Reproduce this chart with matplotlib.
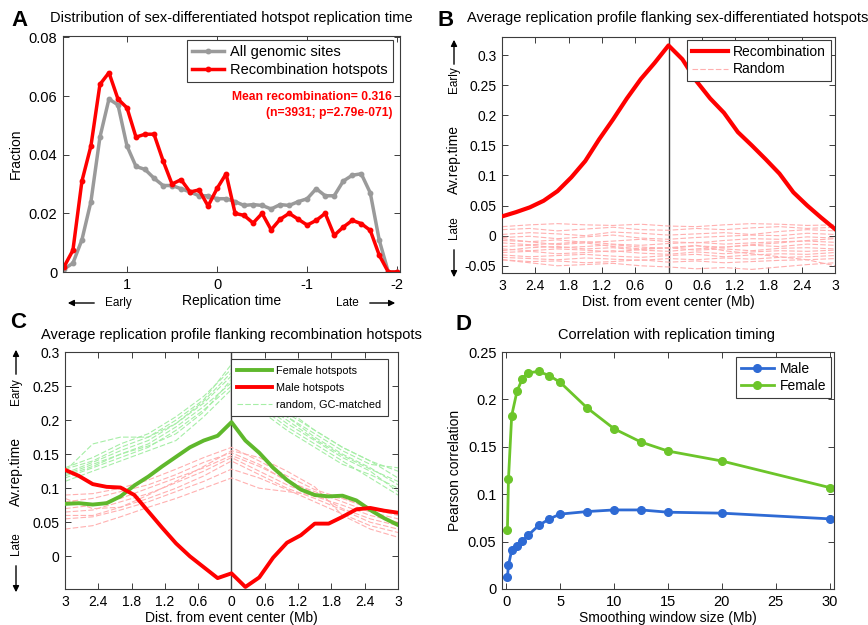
import matplotlib
matplotlib.use('Agg')  # no display here

import matplotlib.pyplot as plt
from matplotlib.patches import FancyArrowPatch

plt.rcParams['font.family'] = ['Liberation Sans', 'DejaVu Sans']

# ---------------- data ----------------
# A: distribution of replication time
rep_time = [1.7, 1.6, 1.5, 1.4, 1.3, 1.2, 1.1, 1.0, 0.9, 0.8, 0.7, 0.6, 0.5, 0.4,
            0.3, 0.2, 0.1, 0.0, -0.1, -0.2, -0.3, -0.4, -0.5, -0.6, -0.7, -0.8,
            -0.9, -1.0, -1.1, -1.2, -1.3, -1.4, -1.5, -1.6, -1.7, -1.8, -1.9, -2.0]
all_sites = [0.001, 0.003, 0.011, 0.024, 0.046, 0.059, 0.057, 0.043, 0.036, 0.035,
             0.032, 0.0295, 0.0295, 0.0284, 0.0273, 0.026, 0.026, 0.025, 0.025, 0.024,
             0.0227, 0.023, 0.0227, 0.0215, 0.023, 0.0227, 0.024, 0.025, 0.0284, 0.026,
             0.026, 0.031, 0.033, 0.0335, 0.027, 0.0108, 0.0, 0.0]
hotspots = [0.0017, 0.0074, 0.031, 0.043, 0.064, 0.068, 0.059, 0.056, 0.046, 0.047,
            0.047, 0.038, 0.030, 0.0315, 0.0273, 0.028, 0.0225, 0.0285, 0.0335, 0.020,
            0.0193, 0.0167, 0.020, 0.0144, 0.018, 0.020, 0.018, 0.016, 0.0176, 0.020,
            0.0125, 0.0153, 0.0176, 0.0165, 0.0142, 0.0057, 0.0, 0.0]

# B, C: profiles around the event center
profile_dist = [-3.0, -2.75, -2.5, -2.25, -2.0, -1.75, -1.5, -1.25, -1.0, -0.75, -0.5,
                -0.25, 0.0, 0.25, 0.5, 0.75, 1.0, 1.25, 1.5, 1.75, 2.0, 2.25, 2.5, 2.75, 3.0]
random_dist = [-3.0, -2.5, -2.0, -1.5, -1.0, -0.5, 0.0, 0.5, 1.0, 1.5, 2.0, 2.5, 3.0]
dist_ticks = [-3, -2.4, -1.8, -1.2, -0.6, 0, 0.6, 1.2, 1.8, 2.4, 3]
dist_ticklabels = ['3', '2.4', '1.8', '1.2', '0.6', '0', '0.6', '1.2', '1.8', '2.4', '3']

recomb_profile = [0.032, 0.039, 0.047, 0.058, 0.074, 0.097, 0.124, 0.160, 0.193, 0.228,
                  0.260, 0.287, 0.316, 0.293, 0.257, 0.228, 0.204, 0.172, 0.150, 0.127,
                  0.103, 0.072, 0.050, 0.030, 0.011]
random_b = [
    [0.015, 0.018, 0.020, 0.018, 0.017, 0.019, 0.016, 0.015, 0.018, 0.020, 0.019, 0.017, 0.018],
    [0.010, 0.012, 0.008, 0.011, 0.014, 0.010, 0.009, 0.012, 0.010, 0.013, 0.015, 0.012, 0.014],
    [0.002, 0.005, 0.003, 0.000, 0.006, 0.004, 0.001, 0.003, 0.005, 0.002, 0.007, 0.010, 0.008],
    [-0.003, -0.001, -0.005, -0.002, 0.001, -0.004, -0.006, -0.003, -0.001, 0.001, 0.000, 0.004, 0.002],
    [-0.008, -0.010, -0.007, -0.011, -0.009, -0.006, -0.010, -0.012, -0.008, -0.005, -0.006, -0.002, -0.004],
    [-0.012, -0.015, -0.013, -0.010, -0.014, -0.016, -0.013, -0.011, -0.014, -0.012, -0.010, -0.009, -0.011],
    [-0.018, -0.016, -0.020, -0.018, -0.015, -0.019, -0.021, -0.017, -0.019, -0.016, -0.018, -0.014, -0.016],
    [-0.022, -0.025, -0.022, -0.024, -0.027, -0.023, -0.020, -0.024, -0.022, -0.025, -0.021, -0.020, -0.022],
    [-0.028, -0.026, -0.030, -0.028, -0.025, -0.029, -0.031, -0.027, -0.030, -0.027, -0.025, -0.026, -0.024],
    [-0.032, -0.035, -0.033, -0.031, -0.034, -0.036, -0.033, -0.031, -0.035, -0.032, -0.030, -0.031, -0.028],
    [-0.036, -0.038, -0.040, -0.037, -0.039, -0.041, -0.038, -0.040, -0.037, -0.039, -0.036, -0.035, -0.033],
    [-0.040, -0.043, -0.042, -0.045, -0.043, -0.040, -0.044, -0.042, -0.045, -0.043, -0.041, -0.040, -0.038],
    [-0.040, -0.045, -0.050, -0.048, -0.046, -0.050, -0.052, -0.055, -0.053, -0.056, -0.052, -0.048, -0.045],
    [-0.025, -0.020, -0.018, -0.022, -0.020, -0.024, -0.026, -0.022, -0.019, -0.015, -0.012, -0.008, -0.005],
    [-0.005, -0.010, -0.015, -0.012, -0.018, -0.022, -0.020, -0.016, -0.025, -0.030, -0.035, -0.040, -0.050],
]

female_profile = [0.077, 0.078, 0.076, 0.078, 0.088, 0.104, 0.117, 0.132, 0.146, 0.160,
                  0.170, 0.177, 0.197, 0.170, 0.152, 0.130, 0.112, 0.098, 0.090, 0.088,
                  0.089, 0.082, 0.068, 0.056, 0.046]
male_profile = [0.127, 0.118, 0.106, 0.102, 0.101, 0.090, 0.066, 0.042, 0.019, 0.000,
                -0.016, -0.032, -0.025, -0.045, -0.031, -0.002, 0.020, 0.031, 0.048, 0.048,
                0.058, 0.069, 0.071, 0.067, 0.064]
random_female = [
    [0.130, 0.145, 0.165, 0.180, 0.205, 0.235, 0.275, 0.245, 0.210, 0.185, 0.160, 0.140, 0.115],
    [0.125, 0.165, 0.175, 0.175, 0.195, 0.225, 0.265, 0.235, 0.205, 0.175, 0.150, 0.130, 0.105],
    [0.120, 0.135, 0.150, 0.165, 0.190, 0.220, 0.255, 0.225, 0.195, 0.170, 0.145, 0.125, 0.095],
    [0.115, 0.130, 0.145, 0.160, 0.185, 0.215, 0.250, 0.220, 0.190, 0.165, 0.140, 0.115, 0.090],
    [0.128, 0.140, 0.160, 0.175, 0.200, 0.230, 0.282, 0.250, 0.215, 0.185, 0.160, 0.140, 0.125],
    [0.110, 0.125, 0.140, 0.155, 0.170, 0.205, 0.245, 0.215, 0.185, 0.160, 0.135, 0.120, 0.100],
    [0.122, 0.138, 0.155, 0.170, 0.195, 0.228, 0.270, 0.240, 0.205, 0.180, 0.155, 0.135, 0.130],
    [0.118, 0.132, 0.150, 0.162, 0.180, 0.212, 0.260, 0.228, 0.200, 0.172, 0.148, 0.128, 0.110],
]
random_male = [
    [0.090, 0.092, 0.100, 0.112, 0.128, 0.145, 0.160, 0.140, 0.118, 0.098, 0.085, 0.072, 0.065],
    [0.080, 0.085, 0.095, 0.105, 0.120, 0.138, 0.152, 0.135, 0.110, 0.095, 0.080, 0.065, 0.055],
    [0.070, 0.075, 0.085, 0.100, 0.115, 0.130, 0.148, 0.132, 0.112, 0.092, 0.070, 0.055, 0.045],
    [0.065, 0.068, 0.080, 0.092, 0.108, 0.125, 0.145, 0.125, 0.105, 0.088, 0.075, 0.060, 0.050],
    [0.060, 0.060, 0.072, 0.085, 0.100, 0.118, 0.140, 0.120, 0.100, 0.085, 0.068, 0.050, 0.040],
    [0.055, 0.058, 0.068, 0.080, 0.095, 0.110, 0.128, 0.115, 0.098, 0.080, 0.062, 0.045, 0.035],
    [0.040, 0.045, 0.058, 0.072, 0.085, 0.100, 0.115, 0.100, 0.095, 0.090, 0.085, 0.070, 0.060],
    [0.085, 0.070, 0.072, 0.090, 0.110, 0.132, 0.155, 0.145, 0.125, 0.102, 0.060, 0.040, 0.028],
]

# D: correlation vs smoothing window
window_mb = [0.1, 0.2, 0.5, 1, 1.5, 2, 3, 4, 5, 7.5, 10, 12.5, 15, 20, 30]
corr_male = [0.0126, 0.025, 0.041, 0.045, 0.0505, 0.0565, 0.067, 0.074, 0.079, 0.0817,
             0.0834, 0.0834, 0.081, 0.080, 0.074]
corr_female = [0.062, 0.116, 0.183, 0.209, 0.222, 0.228, 0.2295, 0.225, 0.218, 0.191,
               0.169, 0.155, 0.1455, 0.135, 0.107]

# ---------------- figure ----------------
W, H = 868, 625
fig = plt.figure(figsize=(W / 100, H / 100), dpi=100)
EDGE = '#3c3c3c'


def rect(l, t, r, b):
    return [l / W, 1 - b / H, (r - l) / W, (b - t) / H]


def fx(x):
    return x / W


def fy(y):
    return 1 - y / H


def style(ax, size=10):
    ax.tick_params(direction='in', top=True, right=True, length=4, width=0.7,
                   color=EDGE, labelsize=size, pad=4)
    for s in ax.spines.values():
        s.set_color(EDGE)
        s.set_linewidth(0.8)


def legend(ax, x, y, size, hl=2.2, spacing=0.25, bpad=0.35):
    leg = ax.legend(loc='upper right', bbox_to_anchor=(x, y), fontsize=size,
                    fancybox=False, borderaxespad=0, numpoints=1, handlelength=hl,
                    borderpad=bpad, labelspacing=spacing, handletextpad=0.4, framealpha=1)
    leg.get_frame().set_edgecolor(EDGE)
    leg.get_frame().set_linewidth(0.8)


def arrow(x0, y0, x1, y1):
    fig.add_artist(FancyArrowPatch((fx(x0), fy(y0)), (fx(x1), fy(y1)),
                                   transform=fig.transFigure, arrowstyle='-|>',
                                   mutation_scale=9, lw=1, color='black'))


def early_late(x, early_y, av_y, late_y, up, down):
    fig.text(fx(x), fy(early_y), 'Early', rotation=90, ha='center', va='center', fontsize=8.5)
    fig.text(fx(x), fy(av_y), 'Av.rep.time', rotation=90, ha='center', va='center', fontsize=10)
    fig.text(fx(x), fy(late_y), 'Late', rotation=90, ha='center', va='center', fontsize=8.5)
    arrow(x, up[0], x, up[1])
    arrow(x, down[0], x, down[1])


# ---- A ----
axA = fig.add_axes(rect(63, 36, 400, 272))
axA.plot(rep_time, all_sites, color='#9a9a9a', lw=2.5, marker='o', ms=3.2,
         label='All genomic sites')
axA.plot(rep_time, hotspots, color='#ff0000', lw=2.5, marker='o', ms=3.2,
         label='Recombination hotspots')
axA.set_xlim(1.71, -2.03)
axA.set_ylim(0, 0.0805)
axA.set_xticks([1, 0, -1, -2])
axA.set_xticklabels(['1', '0', '-1', '-2'])
axA.set_yticks([0, 0.02, 0.04, 0.06, 0.08])
axA.set_yticklabels(['0', '0.02', '0.04', '0.06', '0.08'])
style(axA, 10.5)
axA.set_ylabel('Fraction', fontsize=10, labelpad=4)
axA.set_xlabel('Replication time', fontsize=10, labelpad=2)
legend(axA, 0.979, 0.983, 10.5)
fig.text(fx(392), fy(97), 'Mean recombination= 0.316', ha='right', va='center',
         color='red', fontweight='bold', fontsize=8.7)
fig.text(fx(392), fy(113), '(n=3931; p=2.79e-071)', ha='right', va='center',
         color='red', fontweight='bold', fontsize=8.7)
fig.text(fx(118), fy(303), 'Early', ha='center', va='center', fontsize=8.5)
fig.text(fx(347), fy(303), 'Late', ha='center', va='center', fontsize=8.5)
arrow(97, 303, 65, 303)
arrow(367, 303, 398, 303)
fig.text(fx(231), fy(18), 'Distribution of sex-differentiated hotspot replication time',
         ha='center', va='center', fontsize=10.5)

# ---- B ----
axB = fig.add_axes(rect(502, 37, 835, 273))
axB.axvline(0, color=EDGE, lw=1, zorder=1)
axB.plot(profile_dist, recomb_profile, color='#ff0000', lw=3, label='Recombination', zorder=3)
for i, r in enumerate(random_b):
    axB.plot(random_dist, r, color='#ffb0b0', lw=0.8, ls=(0, (5, 2)),
             label='Random' if i == 0 else None, zorder=2)
axB.set_xlim(-3, 3)
axB.set_ylim(-0.062, 0.33)
axB.set_xticks(dist_ticks)
axB.set_xticklabels(dist_ticklabels)
axB.set_yticks([-0.05, 0, 0.05, 0.1, 0.15, 0.2, 0.25, 0.3])
axB.set_yticklabels(['-0.05', '0', '0.05', '0.1', '0.15', '0.2', '0.25', '0.3'])
style(axB, 10)
axB.set_xlabel('Dist. from event center (Mb)', fontsize=10, labelpad=2)
legend(axB, 0.988, 0.987, 10, hl=2.6)
early_late(454, 80, 160, 228, (67, 37), (247, 280))
fig.text(fx(668), fy(18), 'Average replication profile flanking sex-differentiated hotspots',
         ha='center', va='center', fontsize=10.5)

# ---- C ----
axC = fig.add_axes(rect(65, 352, 398, 589))
axC.axvline(0, color=EDGE, lw=1, zorder=1)
axC.plot(profile_dist, female_profile, color='#5fb82c', lw=2.8, label='Female hotspots', zorder=4)
axC.plot(profile_dist, male_profile, color='#ff0000', lw=2.8, label='Male hotspots', zorder=4)
for i, r in enumerate(random_female):
    axC.plot(random_dist, r, color='#a6eea6', lw=0.8, ls=(0, (5, 2)),
             label='random, GC-matched' if i == 0 else None, zorder=2)
for r in random_male:
    axC.plot(random_dist, r, color='#ffb0b0', lw=0.8, ls=(0, (5, 2)), zorder=2)
axC.set_xlim(-3, 3)
axC.set_ylim(-0.048, 0.3)
axC.set_xticks(dist_ticks)
axC.set_xticklabels(dist_ticklabels)
axC.set_yticks([0, 0.05, 0.1, 0.15, 0.2, 0.25, 0.3])
axC.set_yticklabels(['0', '0.05', '0.1', '0.15', '0.2', '0.25', '0.3'])
style(axC, 10)
axC.set_xlabel('Dist. from event center (Mb)', fontsize=10, labelpad=2)
legend(axC, 0.970, 0.970, 7.8, hl=3.2, spacing=0.65, bpad=0.6)
early_late(16, 392, 471, 544, (377, 347), (563, 595))
fig.text(fx(231), fy(335), 'Average replication profile flanking recombination hotspots',
         ha='center', va='center', fontsize=10.5)

# ---- D ----
axD = fig.add_axes(rect(502, 352, 834, 589))
axD.plot(window_mb, corr_male, color='#2e6ad4', lw=2, marker='o', ms=5.5, label='Male')
axD.plot(window_mb, corr_female, color='#6cc52a', lw=2, marker='o', ms=5.5, label='Female')
axD.set_xlim(-0.4, 30.4)
axD.set_ylim(0, 0.25)
axD.set_xticks([0, 5, 10, 15, 20, 25, 30])
axD.set_xticklabels(['0', '5', '10', '15', '20', '25', '30'])
axD.set_yticks([0, 0.05, 0.1, 0.15, 0.2, 0.25])
axD.set_yticklabels(['0', '0.05', '0.1', '0.15', '0.2', '0.25'])
style(axD, 10.5)
axD.set_xlabel('Smoothing window size (Mb)', fontsize=10, labelpad=2)
axD.set_ylabel('Pearson correlation', fontsize=10, labelpad=4)
legend(axD, 0.991, 0.979, 10, hl=2.4)
fig.text(fx(667), fy(335), 'Correlation with replication timing',
         ha='center', va='center', fontsize=10.5)

# panel letters
for letter, (x, y) in zip('ABCD', [(20, 21), (446, 20), (18, 322), (463, 324)]):
    fig.text(fx(x), fy(y), letter, ha='center', va='center', fontsize=16, fontweight='bold')

fig.savefig('out.png', dpi=100)
